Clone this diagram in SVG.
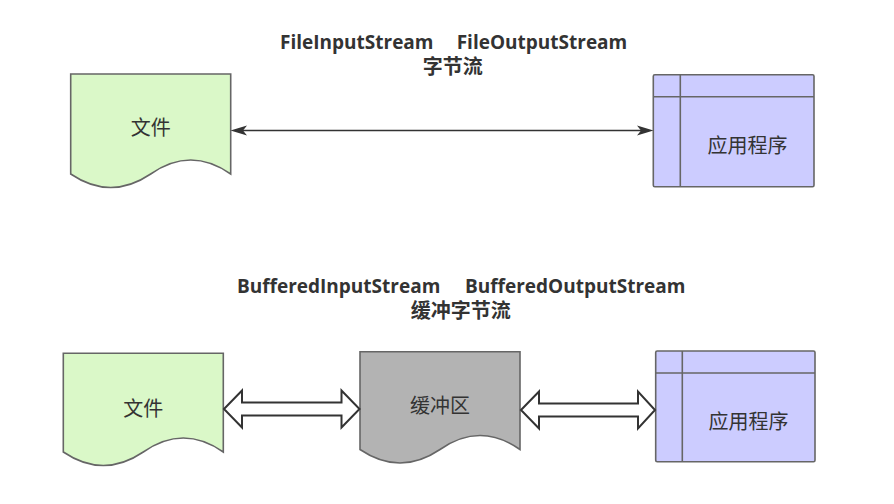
<svg xmlns="http://www.w3.org/2000/svg" width="894" height="504" viewBox="0 0 894 504">
  <style>
    .doc-green { fill: #daf8c8; stroke: #666666; stroke-width: 1.6; }
    .doc-gray { fill: #b3b3b3; stroke: #666666; stroke-width: 1.6; }
    .app { fill: #ccccff; stroke: #666666; stroke-width: 1.6; }
    .app-line { fill: none; stroke: #666666; stroke-width: 1.6; }
    .lbl { font-family: "Noto Sans CJK SC", "Noto Sans", sans-serif; font-size: 20px; fill: #333333; text-anchor: middle; }
    .title { font-family: "Open Sans", "Noto Sans CJK SC", sans-serif; font-weight: bold; font-size: 19px; fill: #333333; }
    .title-cjk { font-family: "Noto Sans CJK SC", sans-serif; font-weight: bold; font-size: 20px; fill: #333333; text-anchor: middle; }
    .conn { fill: none; stroke: #333333; stroke-width: 1.6; }
    .flex { fill: #ffffff; stroke: #333333; stroke-width: 2; stroke-linejoin: miter; }
  </style>
  <defs>
    <marker id="classic" markerUnits="userSpaceOnUse" markerWidth="17" markerHeight="11" refX="4" refY="5.5" orient="auto-start-reverse" viewBox="0 0 17 11">
      <path d="M0,0.5 L16.5,5.5 L0,10.5 L4,5.5 Z" fill="#333333"/>
    </marker>
  </defs>

  <!-- labels -->
  <g id="label-top">
    <text class="title" y="48.7"><tspan x="280">FileInputStream</tspan><tspan x="456.7">FileOutputStream</tspan></text>
    <text class="title-cjk" x="452.8" y="73.5">字节流</text>
  </g>
  <g id="label-bottom">
    <text class="title" y="293.3"><tspan x="237">BufferedInputStream</tspan><tspan x="465">BufferedOutputStream</tspan></text>
    <text class="title-cjk" x="460.8" y="317.5">缓冲字节流</text>
  </g>

  <!-- top row -->
  <g id="file-top">
    <path class="doc-green" d="M70.7,74 L230.7,74 L230.7,174 Q190.7,146 150.7,174 Q110.7,201 70.7,174 Z"/>
    <text class="lbl" x="150.7" y="134.5">文件</text>
  </g>
  <g id="app-top">
    <rect class="app" x="653.3" y="74.7" width="160.7" height="112" rx="1.5"/>
    <path class="app-line" d="M680.3,74.7 V186.7 M653.3,96.7 H814"/>
    <text class="lbl" x="747.5" y="152.5">应用程序</text>
  </g>

  <!-- bottom row -->
  <g id="file-bottom">
    <path class="doc-green" d="M63.3,353.3 L223.3,353.3 L223.3,452 Q183.3,424 143.3,452 Q103.3,479 63.3,452 Z"/>
    <text class="lbl" x="143.3" y="415.8">文件</text>
  </g>
  <g id="buffer">
    <path class="doc-gray" d="M360,351.7 L520,351.7 L520,449.5 Q480,421.5 440,449.5 Q400,476.5 360,449.5 Z"/>
    <text class="lbl" x="440" y="412.5">缓冲区</text>
  </g>
  <g id="app-bottom">
    <rect class="app" x="655.7" y="351" width="159.3" height="110.7" rx="1.5"/>
    <path class="app-line" d="M682.3,351 V461.7 M655.7,373 H815"/>
    <text class="lbl" x="748.5" y="429">应用程序</text>
  </g>

  <!-- connectors -->
  <g id="connectors">
    <path class="conn" d="M243,130.5 H641" marker-start="url(#classic)" marker-end="url(#classic)"/>
    <path class="flex" d="M224,409 L242,390.5 L242,402.5 L341.5,402.5 L341.5,390.5 L359.5,409 L341.5,427.5 L341.5,415.5 L242,415.5 L242,427.5 Z"/>
    <path class="flex" d="M521,410 L539,391.5 L539,403.5 L638,403.5 L638,391.5 L655,410 L638,428.5 L638,416.5 L539,416.5 L539,428.5 Z"/>
  </g>
</svg>
